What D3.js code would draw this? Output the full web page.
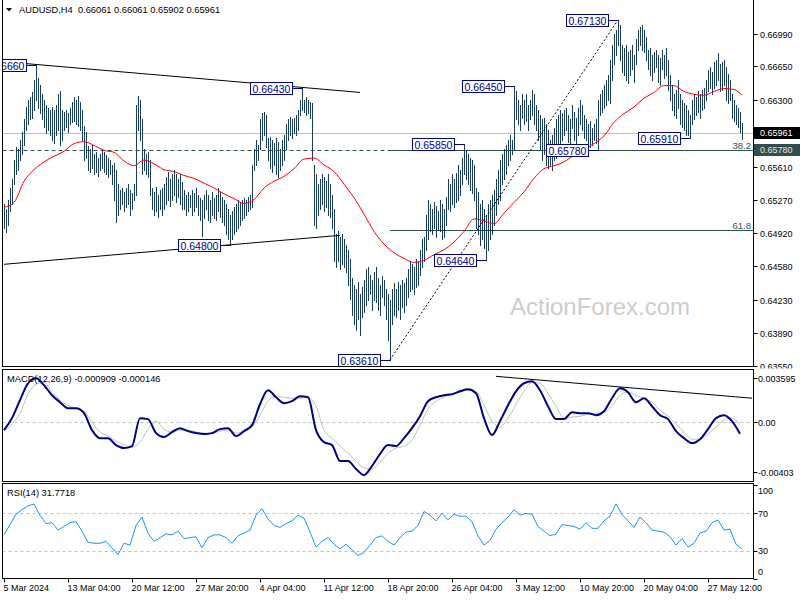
<!DOCTYPE html>
<html><head><meta charset="utf-8">
<script src="https://cdn.jsdelivr.net/npm/d3@7"></script>
<style>
body{margin:0;background:#fff}
svg{display:block}
text{font-family:"Liberation Sans",Arial,sans-serif}
</style>
</head><body>
<svg id="chart" width="800" height="600"></svg>
<script>
// ---------------- DATA ----------------
const symbol = "AUDUSD,H4";
const lastOHLC = [0.66061, 0.66061, 0.65902, 0.65961];
const hLineLevel = 0.65780;

// H4 bars, high / low in pips (0.0001)
const barHigh = [
6522,6517,6527,6539,6548,6568,6581,6579,6589,6597,
6610,6623,6630,6633,6638,6651,6666,6653,6646,6636,
6630,6625,6622,6620,6623,6620,6625,6636,6639,6620,
6618,6620,6617,6622,6628,6633,6630,6634,6628,6620,
6603,6597,6582,6579,6584,6574,6576,6570,6574,6579,
6576,6573,6570,6568,6563,6565,6558,6543,6537,6539,
6535,6539,6543,6537,6534,6543,6625,6634,6630,6610,
6579,6574,6576,6568,6539,6535,6540,6532,6537,6539,
6543,6550,6556,6548,6553,6558,6553,6548,6553,6545,
6537,6532,6535,6532,6537,6534,6539,6532,6529,6527,
6532,6537,6532,6527,6535,6529,6532,6539,6535,6530,
6527,6522,6517,6511,6515,6519,6522,6527,6524,6527,
6529,6527,6530,6532,6563,6579,6589,6584,6610,6617,
6618,6615,6591,6592,6589,6586,6591,6587,6579,6589,
6594,6605,6610,6613,6610,6612,6615,6620,6630,6643,
6630,6633,6630,6628,6627,6563,6553,6543,6548,6553,
6550,6546,6553,6543,6532,6517,6491,6494,6488,6491,
6486,6480,6475,6465,6446,6439,6434,6442,6429,6436,
6444,6455,6457,6449,6444,6452,6457,6446,6439,6448,
6444,6434,6429,6423,6434,6441,6434,6442,6439,6444,
6441,6446,6455,6463,6460,6457,6465,6463,6475,6486,
6488,6511,6527,6522,6517,6524,6520,6515,6527,6522,
6517,6530,6548,6543,6553,6548,6555,6563,6558,6570,
6585,6577,6574,6570,6568,6563,6539,6535,6522,6527,
6517,6511,6522,6527,6532,6537,6548,6558,6568,6574,
6579,6584,6589,6594,6589,6645,6639,6630,6625,6636,
6630,6636,6625,6630,6641,6636,6625,6620,6615,6610,
6612,6605,6599,6589,6594,6601,6610,6615,6620,6617,
6620,6622,6615,6610,6625,6618,6612,6622,6630,6625,
6615,6610,6605,6608,6601,6605,6610,6630,6636,6641,
6646,6651,6656,6672,6687,6698,6703,6713,6708,6687,
6684,6687,6680,6682,6687,6677,6693,6703,6706,6708,
6703,6695,6682,6684,6677,6680,6682,6677,6674,6682,
6677,6684,6672,6656,6646,6636,6641,6651,6636,6630,
6627,6625,6620,6615,6630,6636,6633,6639,6636,6641,
6643,6651,6661,6664,6659,6670,6672,6679,6667,6670,
6672,6664,6657,6651,6636,6630,6625,6622,6618,6606];
const barLow = [
6498,6493,6501,6515,6522,6543,6553,6558,6568,6574,
6584,6599,6605,6610,6612,6620,6630,6622,6617,6610,
6602,6596,6599,6594,6589,6586,6594,6599,6584,6589,
6599,6602,6597,6605,6607,6608,6605,6603,6599,6589,
6568,6570,6558,6556,6560,6553,6556,6551,6558,6560,
6556,6553,6550,6553,6543,6527,6504,6511,6517,6522,
6515,6519,6522,6511,6517,6527,6532,6599,6589,6553,
6558,6553,6550,6532,6517,6511,6515,6509,6517,6511,
6517,6522,6527,6520,6527,6532,6525,6530,6522,6517,
6517,6511,6515,6519,6511,6515,6519,6511,6506,6489,
6508,6517,6506,6504,6511,6508,6506,6515,6509,6504,
6501,6491,6486,6480,6486,6491,6494,6498,6501,6506,
6508,6511,6515,6517,6519,6558,6563,6568,6579,6589,
6594,6581,6568,6560,6556,6563,6553,6550,6558,6563,
6568,6579,6589,6594,6591,6596,6594,6599,6615,6620,
6618,6615,6617,6612,6568,6501,6498,6511,6517,6522,
6515,6519,6511,6509,6498,6463,6457,6463,6455,6460,
6457,6452,6439,6424,6408,6398,6392,6403,6387,6405,
6411,6418,6423,6429,6413,6423,6421,6413,6408,6426,
6418,6403,6382,6361,6398,6408,6405,6413,6403,6416,
6411,6418,6426,6432,6434,6429,6436,6439,6449,6457,
6463,6475,6486,6494,6491,6498,6488,6496,6494,6486,
6488,6501,6517,6515,6522,6519,6524,6527,6532,6543,
6553,6548,6543,6537,6534,6527,6498,6491,6480,6486,
6477,6464,6475,6486,6491,6501,6511,6522,6527,6543,
6548,6553,6563,6568,6574,6579,6610,6605,6599,6612,
6605,6608,6599,6610,6615,6605,6599,6589,6579,6568,
6574,6563,6560,6563,6558,6568,6570,6579,6584,6589,
6594,6599,6587,6584,6601,6589,6581,6594,6605,6599,
6591,6589,6584,6581,6584,6589,6586,6578,6615,6618,
6622,6625,6630,6627,6651,6667,6677,6687,6672,6659,
6656,6651,6648,6656,6662,6649,6667,6682,6687,6682,
6680,6672,6662,6656,6651,6659,6664,6649,6646,6662,
6653,6656,6641,6630,6620,6615,6612,6622,6605,6602,
6599,6594,6594,6591,6605,6610,6615,6618,6612,6620,
6622,6630,6639,6643,6636,6643,6646,6651,6639,6641,
6646,6630,6627,6630,6612,6608,6605,6602,6597,6590];

// moving average (pips), one value every 5 bars
const maStep = 5;
const maValues = [
6519,6524,6546,6558,6566,6572,6577,6585,6587,6583,
6578,6576,6567,6562,6568,6564,6558,6556,6552,6549,
6544,6539,6533,6528,6523,6527,6539,6546,6551,6559,
6569,6570,6563,6556,6543,6529,6512,6494,6481,6472,
6466,6462,6464,6470,6475,6483,6494,6507,6505,6502,
6513,6524,6535,6549,6559,6562,6566,6573,6579,6585,
6593,6607,6616,6623,6632,6638,6645,6645,6639,6636,
6635,6639,6642,6641,6635];

// MACD(12,26,9) in 0.00001 units, one value every 4 bars
const macdStep = 4;
const macdMain = [
-62,35,180,317,357,301,220,164,115,115,
75,-62,-127,-127,-183,-207,-191,35,27,-86,
-118,-78,-46,-70,-86,-94,-86,-54,-46,-110,
-70,-22,147,260,204,156,172,212,204,-62,
-159,-183,-312,-312,-376,-425,-352,-255,-183,-191,
-127,-46,51,172,204,220,228,252,268,236,
35,-102,11,139,252,317,333,260,131,27,
27,83,75,75,59,91,196,276,244,164,
196,131,59,27,-70,-127,-167,-135,-54,35,
59,11,-91];
const macdSignal = [
-70,-14,75,228,309,325,244,180,139,115,
91,2,-78,-110,-151,-183,-199,-159,-54,11,
-54,-78,-62,-62,-78,-86,-86,-70,-62,-86,
-70,-38,59,172,212,204,196,196,204,131,
-62,-127,-191,-248,-312,-368,-376,-320,-248,-207,
-191,-143,-22,107,172,204,228,244,260,252,
139,11,-38,35,147,252,325,317,236,131,
35,43,51,67,75,83,131,220,244,220,
196,164,99,51,-14,-78,-135,-135,-94,-38,
19,35,-15];
const macdLast = [-0.000909, -0.000146];

// RSI(14), one value every 3 bars
const rsiStep = 3;
const rsiValues = [
47,58,69,74,78,80,68,59,60,52,
56,60,61,51,39,38,38,40,33,26,
38,36,57,66,49,40,44,48,47,51,
43,44,45,33,44,47,47,44,38,46,
49,52,68,75,64,57,55,59,62,68,
65,50,34,40,44,37,32,37,31,25,
28,36,44,46,40,36,44,50,51,57,
72,68,62,70,63,69,67,67,61,46,
36,41,53,60,66,74,68,70,69,56,
51,46,48,58,57,56,53,60,54,54,
62,67,80,69,62,55,66,60,52,51,
50,45,36,43,34,38,49,51,60,63,
52,53,37,31.7718];

// axes
const priceTicks = [0.66990,0.66650,0.66300,0.65610,0.65270,0.64920,0.64580,0.64230,0.63890,0.63550];
const macdTicks = [0.003595, 0, -0.00403];
const macdTickText = ["0.003595","0.00","-0.00403"];
const rsiTicks = [100,70,30,0];
const rsiLevels = [70,30];
const timeLabelBars = [0,32,64,96,128,160,192,224,256,288,320,352];
const timeLabels = ["5 Mar 2024","13 Mar 04:00","20 Mar 12:00","27 Mar 20:00","4 Apr 04:00","11 Apr 12:00","18 Apr 20:00","26 Apr 04:00","3 May 12:00","10 May 20:00","20 May 04:00","27 May 12:00"];

// swing-point labels (bar index, which extreme)
const swingBars  = [16,149,113,193,241,230,255,307,343,297];
const swingSides = ["high","high","low","low","low","high","high","high","low","low"];

// trend lines: [bar1, price1, bar2, price2]
const trendUpper = [10, 0.6668, 178, 0.6638];
const trendLower = [0, 0.6460, 168, 0.6490];
const macdTrend = [246, 0.00373, 374, 0.00196];
const fibFrom = [193, 0.6361];
const fibTo = [307, 0.6713];
const fibLevels = [38.2, 61.8];

// ---------------- DRAW ----------------
const svg = d3.select("#chart");
const L = 2.5, R = 753.5;
const P = {main:[0,366.5], macd:[369.5,481.5], rsi:[483.5,578.5]};
const N = barHigh.length;

const x = d3.scaleLinear().domain([0, N-1]).range([4, 4 + 2*(N-1)]);
const yMain = d3.scaleLinear().domain([0.63550, 0.66990]).range([365.7, 33.5]);
const yMacd = d3.scaleLinear().domain([-0.00403, 0.003595]).range([472.3, 378]);
const yRsi = d3.scaleLinear().domain([0, 100]).range([578.8, 485.3]);
const px = v => Math.round(v) + 0.5;

const defs = svg.append("defs");
function clip(id, y0, y1) {
  defs.append("clipPath").attr("id", id).append("rect")
    .attr("x", L+0.5).attr("y", y0).attr("width", R-L-1).attr("height", y1-y0);
}
clip("cMain", 0, P.main[1]);
clip("cMacd", P.macd[0]+0.5, P.macd[1]);
clip("cRsi", P.rsi[0]+0.5, P.rsi[1]);
defs.append("clipPath").attr("id","cAxis").append("rect").attr("x",R).attr("y",0).attr("width",50).attr("height",368.5);

// watermark
svg.append("text").attr("x", 600).attr("y", 315).attr("text-anchor","middle")
  .attr("font-size", 24).attr("fill", "#cdcdcd").text("ActionForex.com");

// ---- main panel ----
const gM = svg.append("g").attr("clip-path","url(#cMain)");

// current price line
gM.append("line").attr("x1",L).attr("x2",R).attr("y1",px(yMain(lastOHLC[3]))).attr("y2",px(yMain(lastOHLC[3])))
  .attr("stroke","#c0c0c0");
// horizontal dashed level
gM.append("line").attr("x1",L).attr("x2",R).attr("y1",px(yMain(hLineLevel))).attr("y2",px(yMain(hLineLevel)))
  .attr("stroke","#2f4f4f").attr("stroke-dasharray","4,3");
// fib levels
const fibRange = fibTo[1]-fibFrom[1];
fibLevels.forEach(f => {
  const p = fibTo[1] - fibRange*f/100;
  const yy = px(yMain(p));
  gM.append("line").attr("x1",x(fibFrom[0])).attr("x2",R).attr("y1",yy).attr("y2",yy).attr("stroke","#2f4f4f");
  gM.append("text").attr("x",751).attr("y",yy-2).attr("text-anchor","end").attr("font-size",9.5)
    .attr("fill","#2f4f4f").text(f.toFixed(1));
});

// bars
gM.append("g").selectAll("line").data(d3.range(N)).join("line")
  .attr("x1", i => px(x(i))).attr("x2", i => px(x(i)))
  .attr("y1", i => Math.round(yMain(barHigh[i]/10000)))
  .attr("y2", i => Math.round(yMain(barLow[i]/10000))+1)
  .attr("stroke","#1b3d5c").attr("stroke-width",1).attr("shape-rendering","crispEdges");

// moving average
gM.append("path").datum(maValues)
  .attr("d", d3.line().x((d,k)=>x(Math.min(k*maStep, N-1))).y(d=>yMain(d/10000)).curve(d3.curveMonotoneX))
  .attr("fill","none").attr("stroke","#ff0000").attr("stroke-width",1);

// trend lines
[trendUpper, trendLower].forEach(t => {
  gM.append("line").attr("x1",x(t[0])).attr("y1",yMain(t[1])).attr("x2",x(t[2])).attr("y2",yMain(t[3]))
    .attr("stroke","#000").attr("stroke-width",1);
});
gM.append("line").attr("x1",x(fibFrom[0])).attr("y1",yMain(fibFrom[1])).attr("x2",x(fibTo[0])).attr("y2",yMain(fibTo[1]))
  .attr("stroke","#000").attr("stroke-dasharray","2,2");

// swing labels
swingBars.forEach((b,k) => {
  const price = (swingSides[k]==="high" ? barHigh[b] : barLow[b]) / 10000;
  const yy = px(yMain(price));
  const bx = px(x(b));
  const right = bx - 10, w = 42, h = 12;
  gM.append("line").attr("x1",right).attr("x2",bx).attr("y1",yy).attr("y2",yy).attr("stroke","#000080");
  gM.append("rect").attr("x",right-w).attr("y",yy-h/2).attr("width",w).attr("height",h)
    .attr("fill","#fff").attr("stroke","#000080");
  gM.append("text").attr("x",right-w+2).attr("y",yy+4).attr("font-size",10.5).attr("fill","#000080")
    .text(price.toFixed(5));
});

// price axis
const gA = svg.append("g").attr("clip-path","url(#cAxis)");
priceTicks.forEach(t => {
  const yy = px(yMain(t));
  gA.append("line").attr("x1",R).attr("x2",R+4).attr("y1",yy).attr("y2",yy).attr("stroke","#000");
  gA.append("text").attr("x",760).attr("y",yy+3.3).attr("font-size",9).text(t.toFixed(5));
});
function priceBox(v, fill, color) {
  const yy = Math.round(yMain(v));
  svg.append("rect").attr("x",R+0.5).attr("y",yy-6).attr("width",46).attr("height",12).attr("fill",fill);
  svg.append("text").attr("x",760).attr("y",yy+3.3).attr("font-size",9).attr("fill",color).text(v.toFixed(5));
}
priceBox(lastOHLC[3], "#000", "#fff");
priceBox(hLineLevel, "#2f4f4f", "#e8e8e8");

// header
svg.append("path").attr("d","M6,8 L12,8 L9,11.5 Z").attr("fill","#000");
svg.append("text").attr("x",19).attr("y",13.3).attr("font-size",9.3).style("white-space","pre")
  .text(symbol + "  " + lastOHLC.map(v=>v.toFixed(5)).join(" "));

// ---- MACD panel ----
const gD = svg.append("g").attr("clip-path","url(#cMacd)");
gD.append("line").attr("x1",L).attr("x2",R).attr("y1",px(yMacd(0))).attr("y2",px(yMacd(0)))
  .attr("stroke","#c0c0c0").attr("stroke-dasharray","3,3");
gD.append("path").datum(macdSignal)
  .attr("d", d3.line().x((d,k)=>x(k*macdStep)).y(d=>yMacd(d/1e5)).curve(d3.curveMonotoneX))
  .attr("fill","none").attr("stroke","#c0c0c0").attr("stroke-width",1);
gD.append("path").datum(macdMain)
  .attr("d", d3.line().x((d,k)=>x(k*macdStep)).y(d=>yMacd(d/1e5)).curve(d3.curveMonotoneX))
  .attr("fill","none").attr("stroke","#000080").attr("stroke-width",2);
gD.append("line").attr("x1",x(macdTrend[0])).attr("y1",yMacd(macdTrend[1])).attr("x2",x(macdTrend[2])).attr("y2",yMacd(macdTrend[3]))
  .attr("stroke","#000");
svg.append("text").attr("x",7).attr("y",382).attr("font-size",9.3)
  .text("MACD(12,26,9) " + macdLast.map(v=>v.toFixed(6)).join(" "));
macdTicks.forEach((t,k) => {
  const yy = px(yMacd(t));
  svg.append("line").attr("x1",R).attr("x2",R+4).attr("y1",yy).attr("y2",yy).attr("stroke","#000");
  svg.append("text").attr("x",758).attr("y",yy+3.3).attr("font-size",9).text(macdTickText[k]);
});

// ---- RSI panel ----
const gR = svg.append("g").attr("clip-path","url(#cRsi)");
rsiLevels.forEach(l => {
  gR.append("line").attr("x1",L).attr("x2",R).attr("y1",px(yRsi(l))).attr("y2",px(yRsi(l)))
    .attr("stroke","#c0c0c0").attr("stroke-dasharray","3,3");
});
gR.append("path").datum(rsiValues)
  .attr("d", d3.line().x((d,k)=>x(k*rsiStep)).y(d=>yRsi(d)))
  .attr("fill","none").attr("stroke","#1e90ff").attr("stroke-width",1);
svg.append("text").attr("x",7).attr("y",496).attr("font-size",9.3)
  .text("RSI(14) " + rsiValues[rsiValues.length-1].toFixed(4));
rsiTicks.forEach(t => {
  const yy = px(yRsi(t));
  const ly = Math.max(P.rsi[0]+7, Math.min(P.rsi[1]-7, yRsi(t)));
  svg.append("line").attr("x1",R).attr("x2",R+4).attr("y1",yy).attr("y2",yy).attr("stroke","#000");
  svg.append("text").attr("x",758).attr("y",ly+3.3).attr("font-size",9).text(t);
});

// ---- frames ----
svg.append("rect").attr("x",L).attr("y",-1).attr("width",R-L).attr("height",P.main[1]+1)
  .attr("fill","none").attr("stroke","#000");
svg.append("rect").attr("x",L).attr("y",P.macd[0]).attr("width",R-L).attr("height",P.macd[1]-P.macd[0])
  .attr("fill","none").attr("stroke","#000");
svg.append("rect").attr("x",L).attr("y",P.rsi[0]).attr("width",R-L).attr("height",P.rsi[1]-P.rsi[0])
  .attr("fill","none").attr("stroke","#000");

// ---- time axis ----
timeLabelBars.forEach((b,k) => {
  const xx = px(x(b));
  svg.append("line").attr("x1",xx).attr("x2",xx).attr("y1",P.rsi[1]).attr("y2",P.rsi[1]+4).attr("stroke","#000");
  svg.append("text").attr("x",xx-1).attr("y",591).attr("font-size",9).text(timeLabels[k]);
});
</script>
</body></html>
